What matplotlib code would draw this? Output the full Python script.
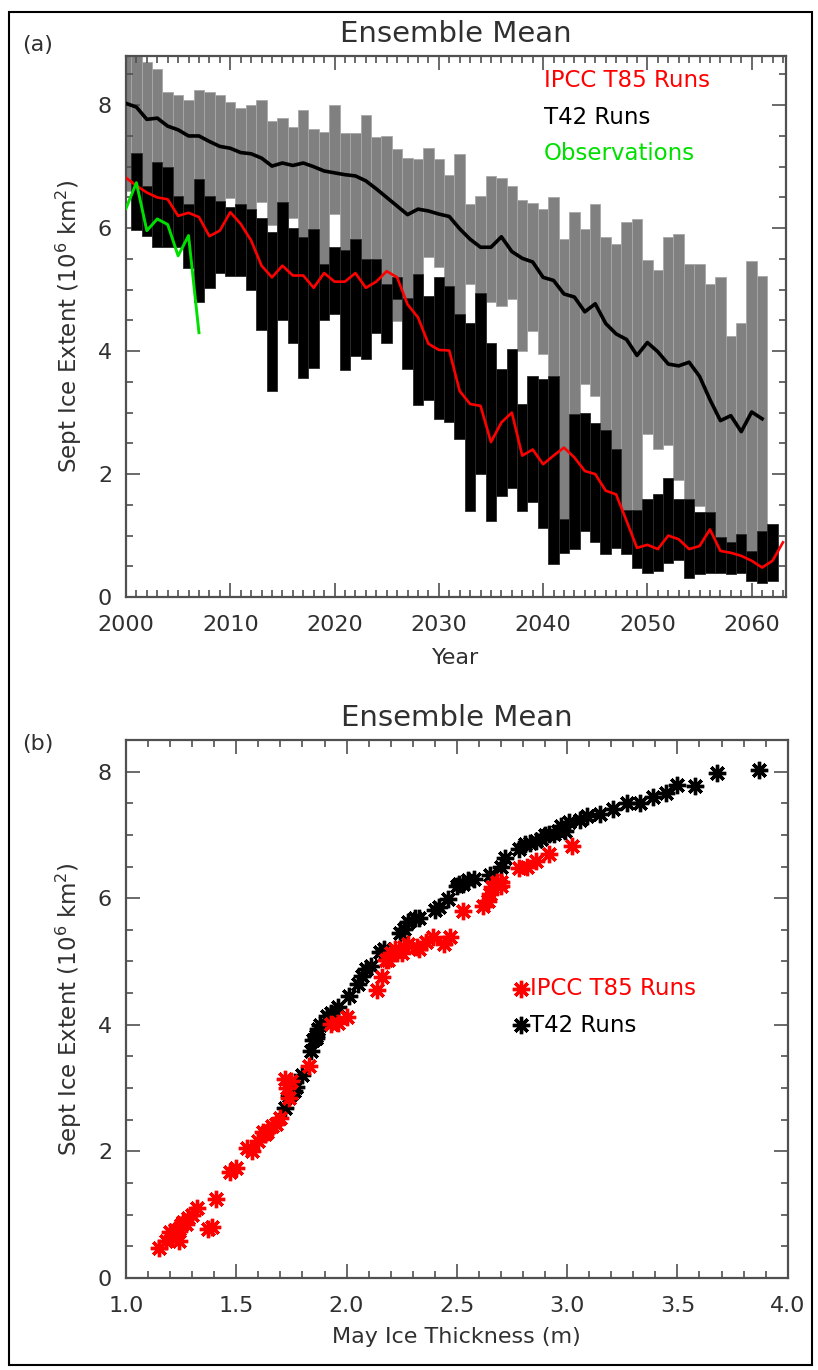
import matplotlib.pyplot as plt
import numpy as np
from matplotlib.ticker import MultipleLocator
from matplotlib.patches import Rectangle

# ---- panel (a): yearly ranges and ensemble means ----
t42_years = np.arange(2000, 2062)
t85_years = np.arange(2000, 2064)
t85_bar_years = np.arange(2001, 2063)
obs_years = np.arange(2000, 2008)

t42_max = [9.5, 9.2, 8.70, 8.59, 8.21, 8.16, 8.08, 8.24, 8.21, 8.16,
           8.05, 7.95, 8.00, 8.08, 7.75, 7.79, 7.65, 7.92, 7.62, 7.57,
           8.00, 7.54, 7.54, 7.84, 7.49, 7.50, 7.29, 7.14, 7.12, 7.30,
           7.12, 6.87, 7.21, 6.39, 6.53, 6.85, 6.82, 6.68, 6.46, 6.41,
           6.31, 6.51, 5.82, 6.26, 5.99, 6.40, 5.86, 5.75, 6.10, 6.15,
           5.49, 5.32, 5.86, 5.91, 5.41, 5.41, 5.10, 5.21, 4.25, 4.46,
           5.46, 5.22]
t42_min = [6.6, 7.0, 6.4, 6.8, 6.7, 6.2, 6.1, 6.5, 6.2, 6.1,
           6.49, 6.1, 6.0, 6.43, 6.05, 6.1, 6.17, 5.6, 5.7, 5.1,
           6.23, 5.3, 5.5, 5.2, 5.2, 4.7, 4.49, 4.6, 5.0, 5.53,
           5.37, 4.8, 4.3, 5.1, 4.6, 4.8, 4.73, 4.85, 4.01, 4.33,
           3.95, 3.3, 1.0, 2.7, 3.47, 3.27, 2.4, 2.1, 1.1, 1.1,
           2.65, 2.4, 2.48, 1.9, 1.3, 1.48, 1.1, 0.7, 0.6, 0.7,
           0.5, 0.8]
t85_max = [7.22, 6.69, 7.08, 7.00, 6.52, 6.40, 6.80, 6.52, 6.44, 6.35,
           6.40, 6.31, 6.16, 5.93, 6.43, 6.00, 5.85, 5.98, 5.41, 5.70,
           5.64, 5.82, 5.50, 5.50, 5.10, 5.20, 4.86, 5.25, 4.89, 5.20,
           5.06, 4.60, 4.45, 4.95, 4.14, 3.71, 4.03, 3.14, 3.60, 3.55,
           3.60, 1.27, 2.98, 3.00, 2.83, 2.72, 2.40, 1.42, 1.42, 1.60,
           1.67, 1.93, 1.60, 1.60, 1.38, 1.38, 0.98, 0.90, 1.02, 0.75,
           1.08, 1.19]
t85_min = [5.97, 5.88, 5.69, 5.69, 5.69, 5.35, 4.80, 5.03, 5.27, 5.22,
           5.22, 4.99, 4.34, 3.35, 4.51, 4.13, 3.57, 3.73, 4.51, 4.60,
           3.70, 3.92, 3.88, 4.30, 4.14, 4.85, 3.71, 3.12, 3.21, 2.89,
           2.84, 2.57, 1.40, 2.00, 1.24, 1.65, 1.78, 1.40, 1.54, 1.13,
           0.53, 0.72, 0.78, 1.08, 0.89, 0.70, 0.80, 0.70, 0.48, 0.39,
           0.42, 0.56, 0.61, 0.31, 0.37, 0.39, 0.39, 0.37, 0.39, 0.26,
           0.23, 0.26]
t85_mean = [6.82, 6.69, 6.58, 6.50, 6.47, 6.20, 6.25, 6.18, 5.87, 5.96,
            6.26, 6.07, 5.80, 5.39, 5.20, 5.39, 5.23, 5.23, 5.03, 5.27,
            5.13, 5.13, 5.27, 5.03, 5.13, 5.30, 5.20, 4.76, 4.55, 4.12,
            4.02, 4.01, 3.35, 3.14, 3.11, 2.52, 2.84, 3.00, 2.30, 2.40,
            2.16, 2.30, 2.43, 2.27, 2.05, 2.00, 1.73, 1.67, 1.24, 0.80,
            0.85, 0.78, 1.00, 0.94, 0.78, 0.83, 1.10, 0.75, 0.72, 0.67,
            0.59, 0.48, 0.59, 0.89]
t42_mean = [8.03, 7.97, 7.77, 7.79, 7.66, 7.60, 7.50, 7.50, 7.41, 7.33,
            7.30, 7.23, 7.21, 7.14, 7.01, 7.06, 7.02, 7.06, 7.00, 6.93,
            6.90, 6.87, 6.85, 6.77, 6.64, 6.50, 6.36, 6.22, 6.31, 6.28,
            6.23, 6.19, 5.99, 5.82, 5.69, 5.69, 5.86, 5.62, 5.51, 5.45,
            5.20, 5.15, 4.93, 4.88, 4.64, 4.77, 4.45, 4.28, 4.19, 3.93,
            4.14, 3.99, 3.79, 3.76, 3.82, 3.59, 3.21, 2.87, 2.95, 2.69,
            3.01, 2.90]
obs_extent = [6.32, 6.74, 5.96, 6.15, 6.06, 5.55, 5.88, 4.30]

# ---- panel (b): May thickness for each yearly mean ----
t85_thick = [3.02, 2.92, 2.86, 2.82, 2.78, 2.70, 2.70, 2.66, 2.62, 2.64,
             2.68, 2.65, 2.53, 2.47, 2.33, 2.39, 2.32, 2.26, 2.18, 2.44,
             2.23, 2.20, 2.28, 2.19, 2.25, 2.36, 2.22, 2.16, 2.14, 2.00,
             1.96, 1.93, 1.83, 1.72, 1.75, 1.70, 1.74, 1.73, 1.64, 1.66,
             1.60, 1.62, 1.68, 1.63, 1.55, 1.57, 1.50, 1.47, 1.41, 1.39,
             1.27, 1.24, 1.30, 1.28, 1.37, 1.25, 1.32, 1.22, 1.20, 1.21,
             1.24, 1.15, 1.18, 1.26]
t42_thick = [3.87, 3.68, 3.58, 3.50, 3.45, 3.39, 3.33, 3.27, 3.21, 3.15,
             3.09, 3.06, 3.01, 2.97, 2.92, 2.96, 2.94, 2.99, 2.90, 2.88,
             2.86, 2.83, 2.81, 2.78, 2.72, 2.70, 2.65, 2.51, 2.58, 2.55,
             2.53, 2.50, 2.46, 2.40, 2.33, 2.31, 2.42, 2.28, 2.26, 2.24,
             2.17, 2.15, 2.11, 2.09, 2.05, 2.07, 2.01, 1.96, 1.93, 1.87,
             1.91, 1.88, 1.86, 1.85, 1.86, 1.84, 1.80, 1.74, 1.76, 1.72,
             1.77, 1.75]

RED = '#ff0000'
GREEN = '#00e000'
TXT = '#303030'
AX = '#505050'
ASTER = (8, 2, 0)
MS = 12.5
MEW = 2.4

fig = plt.figure(figsize=(8.18, 13.70), dpi=100)


def style_axes(ax):
    for s in ax.spines.values():
        s.set_color(AX)
        s.set_linewidth(1.6)
    ax.tick_params(which='both', direction='in', top=True, right=True,
                   color=AX, width=1.2, labelcolor=TXT, labelsize=16)
    ax.tick_params(axis='x', which='both', pad=13)
    ax.tick_params(axis='y', which='both', pad=10)
    ax.tick_params(which='major', length=10)
    ax.tick_params(which='minor', length=5)


# ---------------- panel (a) ----------------
ax1 = fig.add_axes([0.154, 0.5642, 0.807, 0.3949])
gmax = np.array(t42_max)
gmin = np.array(t42_min)
bmax = np.array(t85_max)
bmin = np.array(t85_min)
ax1.bar(t42_years, gmax - gmin, bottom=gmin, width=1.0, color='#808080',
        edgecolor='#a8a8a8', linewidth=0.6, zorder=1)
ax1.bar(t85_bar_years, bmax - bmin, bottom=bmin, width=1.0, color='black',
        edgecolor='#2a2a2a', linewidth=0.6, zorder=2)
ax1.plot(t42_years, t42_mean, color='black', lw=2.6, zorder=3)
ax1.plot(t85_years, t85_mean, color=RED, lw=1.9, zorder=4)
ax1.plot(obs_years, obs_extent, color=GREEN, lw=2.1, zorder=5)

ax1.set_xlim(2000, 2063.3)
ax1.set_ylim(0, 8.8)
ax1.xaxis.set_major_locator(MultipleLocator(10))
ax1.xaxis.set_minor_locator(MultipleLocator(1))
ax1.yaxis.set_major_locator(MultipleLocator(2))
ax1.yaxis.set_minor_locator(MultipleLocator(0.5))
style_axes(ax1)
ax1.set_title('Ensemble Mean', fontsize=21, color=TXT, pad=10)
ax1.set_xlabel('Year', fontsize=16, color=TXT, labelpad=9)
ax1.set_ylabel('Sept Ice Extent (10$^6$ km$^2$)', fontsize=16.5, color=TXT,
               labelpad=10)
ax1.text(0.633, 0.955, 'IPCC T85 Runs', color=RED, fontsize=16.5,
         transform=ax1.transAxes, va='center', ha='left')
ax1.text(0.633, 0.887, 'T42 Runs', color='black', fontsize=16.5,
         transform=ax1.transAxes, va='center', ha='left')
ax1.text(0.633, 0.820, 'Observations', color=GREEN, fontsize=16.5,
         transform=ax1.transAxes, va='center', ha='left')
fig.text(0.027, 0.967, '(a)', fontsize=16, color=TXT, va='center')

# ---------------- panel (b) ----------------
ax2 = fig.add_axes([0.154, 0.0672, 0.809, 0.3927])
ax2.plot(t42_thick, t42_mean, linestyle='none', marker=ASTER, ms=MS,
         mew=MEW, color='black', zorder=2)
ax2.plot(t85_thick, t85_mean, linestyle='none', marker=ASTER, ms=MS,
         mew=MEW, color=RED, zorder=3)
ax2.set_xlim(1.0, 4.0)
ax2.set_ylim(0, 8.5)
ax2.xaxis.set_major_locator(MultipleLocator(0.5))
ax2.xaxis.set_minor_locator(MultipleLocator(0.1))
ax2.yaxis.set_major_locator(MultipleLocator(2))
ax2.yaxis.set_minor_locator(MultipleLocator(0.5))
ax2.xaxis.set_major_formatter(plt.FormatStrFormatter('%.1f'))
style_axes(ax2)
ax2.set_title('Ensemble Mean', fontsize=21, color=TXT, pad=10)
ax2.set_xlabel('May Ice Thickness (m)', fontsize=16, color=TXT, labelpad=8)
ax2.set_ylabel('Sept Ice Extent (10$^6$ km$^2$)', fontsize=16.5, color=TXT,
               labelpad=10)
ax2.plot([2.79], [4.57], linestyle='none', marker=ASTER, ms=MS, mew=MEW,
         color=RED, clip_on=False)
ax2.plot([2.79], [3.99], linestyle='none', marker=ASTER, ms=MS, mew=MEW,
         color='black', clip_on=False)
ax2.text(2.83, 4.57, 'IPCC T85 Runs', color=RED, fontsize=16.5,
         va='center', ha='left')
ax2.text(2.83, 3.99, 'T42 Runs', color='black', fontsize=16.5,
         va='center', ha='left')
fig.text(0.027, 0.457, '(b)', fontsize=16, color=TXT, va='center')

# outer frame
fig.add_artist(Rectangle((0.011, 0.004), 0.982, 0.987, transform=fig.transFigure,
                         fill=False, lw=1.5, ec='black'))

fig.savefig('out.png', dpi=100)
